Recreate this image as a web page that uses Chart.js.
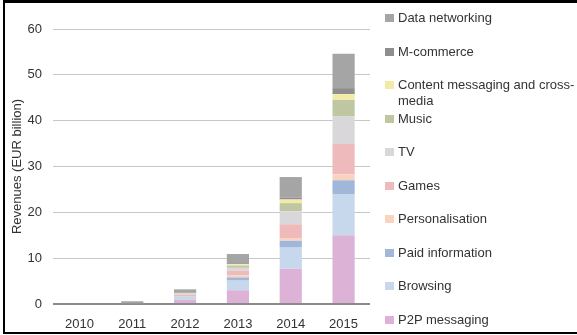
<!DOCTYPE html>
<html>
<head>
<meta charset="utf-8">
<script src="https://cdn.jsdelivr.net/npm/chart.js@4/dist/chart.umd.min.js"></script>
<style>
    html, body { margin: 0; padding: 0; background: #fff; }
    #wrap { position: relative; width: 577px; height: 335px; overflow: hidden; font-family: "Liberation Sans", Arial, sans-serif; }
    #revenueChart { position: absolute; left: 0; top: 0; }
    #frame { position: absolute; left: 3px; top: 0; width: 600px; height: 334px; box-sizing: border-box;
             border-top: 3px solid #000; border-left: 2px solid #000; border-bottom: 2px solid #000; pointer-events: none; }
    #legend { position: absolute; left: 385px; top: 0; width: 200px; }
    .legend-row { position: absolute; left: 0; white-space: nowrap; font-size: 13px; line-height: 16px; color: #333; }
    .legend-box { position: absolute; left: 0; top: 4px; width: 9px; height: 8px; }
    .legend-text { position: absolute; left: 13px; top: 0; }
</style>
</head>
<body>
<div id="wrap">
    <canvas id="revenueChart" width="577" height="335"></canvas>
    <div id="legend"></div>
    <div id="frame"></div>
</div>
<script>
// Mobile content revenues by service, EUR billion
const years = ['2010', '2011', '2012', '2013', '2014', '2015'];

const p2pMessaging     = [0, 0,   0.9, 3.0, 7.7, 15.0];
const browsing         = [0, 0,   0.5, 2.1, 4.6, 9.0];
const paidInformation  = [0, 0,   0.2, 0.7, 1.5, 3.0];
const personalisation  = [0, 0,   0.1, 0.5, 0.6, 1.3];
const games            = [0, 0,   0.3, 1.0, 3.0, 6.6];
const tv               = [0, 0,   0.2, 0.6, 2.8, 6.0];
const music            = [0, 0,   0.1, 0.5, 1.8, 3.6];
const contentMessaging = [0, 0,   0.1, 0.3, 0.8, 1.3];
const mCommerce        = [0, 0.1, 0.1, 0.2, 0.4, 1.3];
const dataNetworking   = [0, 0.5, 0.7, 2.0, 4.5, 7.5];

const yTicks = [0, 10, 20, 30, 40, 50, 60];

// stacked bottom to top
const series = [
    { label: 'P2P messaging', data: p2pMessaging, color: '#dcb3d7' },
    { label: 'Browsing', data: browsing, color: '#c7d8ec' },
    { label: 'Paid information', data: paidInformation, color: '#a0b7d9' },
    { label: 'Personalisation', data: personalisation, color: '#f8d4c0' },
    { label: 'Games', data: games, color: '#efbabb' },
    { label: 'TV', data: tv, color: '#dad7db' },
    { label: 'Music', data: music, color: '#bfc6a2' },
    { label: ['Content messaging and cross-', 'media'], data: contentMessaging, color: '#f2eaa8' },
    { label: 'M-commerce', data: mCommerce, color: '#8e8e8e' },
    { label: 'Data networking', data: dataNetworking, color: '#a5a5a5' }
];

const textColor = '#333';
const font = { family: '"Liberation Sans", Arial, sans-serif', size: 13 };

document.addEventListener('DOMContentLoaded', function() {
    const chart = createRevenueChart();
    buildLegend(chart);
});

function createRevenueChart() {
    const ctx = document.getElementById('revenueChart').getContext('2d');

    return new Chart(ctx, {
        type: 'bar',
        data: {
            labels: years,
            datasets: series.map(s => ({
                label: s.label,
                data: s.data,
                backgroundColor: s.color,
                borderWidth: 0,
                categoryPercentage: 1,
                barPercentage: 0.42
            }))
        },
        options: {
            responsive: false,
            animation: false,
            layout: { padding: { top: 29, right: 207, bottom: 0, left: 0 } },
            plugins: {
                legend: { display: false },
                tooltip: { enabled: false }
            },
            scales: {
                x: {
                    stacked: true,
                    grid: { display: false },
                    border: { display: false },
                    ticks: { color: textColor, font: font, padding: 5 },
                    afterFit: scale => { scale.height = 31; }
                },
                y: {
                    stacked: true,
                    min: 0,
                    max: 60,
                    afterBuildTicks: scale => { scale.ticks = yTicks.map(v => ({ value: v })); },
                    grid: {
                        drawTicks: false,
                        color: c => c.tick && c.tick.value === 0 ? '#8a8a8a' : '#c8c8c8',
                        lineWidth: c => c.tick && c.tick.value === 0 ? 2 : 1
                    },
                    border: { display: false },
                    ticks: { color: textColor, font: font, padding: 11 },
                    title: {
                        display: true,
                        text: 'Revenues (EUR billion)',
                        color: textColor,
                        font: font,
                        padding: { top: 10, bottom: 0 }
                    },
                    afterFit: scale => { scale.width = 53; }
                }
            }
        }
    });
}

// Legend on the right, top item = last stacked series
function buildLegend(chart) {
    const legend = document.getElementById('legend');
    const datasets = chart.data.datasets.slice().reverse();

    legend.innerHTML = datasets.map((ds, i) => {
        const top = 10 + i * 33.55;
        const text = Array.isArray(ds.label) ? ds.label.join('<br>') : ds.label;
        return `
            <div class="legend-row" style="top:${top}px">
                <span class="legend-box" style="background:${ds.backgroundColor}"></span>
                <span class="legend-text">${text}</span>
            </div>
        `;
    }).join('');
}
</script>
</body>
</html>
